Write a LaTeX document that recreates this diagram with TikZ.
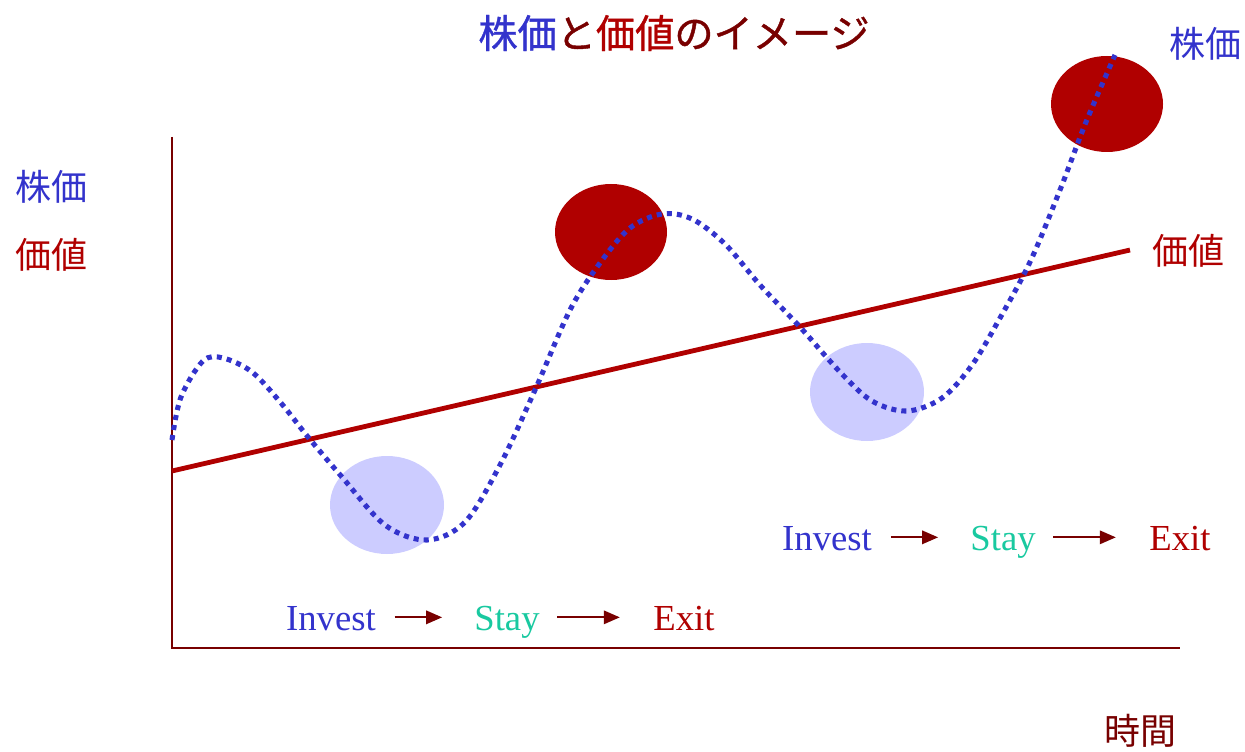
\documentclass[tikz,border=0pt]{standalone}
\usepackage{fontspec}
\setmainfont{Liberation Serif}
\newfontfamily\jpfont{Noto Sans CJK JP}
\newfontfamily\jptitle[FakeBold=1]{Noto Sans CJK JP}
\usetikzlibrary{arrows.meta}

\definecolor{kabuBlue}{HTML}{3333CC}
\definecolor{darkMaroon}{HTML}{780000}
\definecolor{valRed}{HTML}{B00000}
\definecolor{stayGreen}{HTML}{19C9A0}
\definecolor{bulleBlue}{HTML}{CCCCFF}

\tikzset{
  axe/.style={draw=darkMaroon, line width=2.2pt},
  valeur/.style={draw=valRed, line width=3.6pt},
  cours/.style={draw=kabuBlue, line width=3.8pt, dash pattern=on 3.8pt off 3.8pt},
  achat/.style={fill=bulleBlue},
  vente/.style={fill=valRed},
  etape/.style={font=\fontsize{27.5}{30}\selectfont, inner sep=0pt},
  jplabel/.style={font=\jpfont\fontsize{27}{30}\selectfont, inner sep=0pt},
  fleche/.style={draw=darkMaroon, line width=1.6pt, -{Triangle[length=12pt,width=10pt]}}
}

\begin{document}
\begin{tikzpicture}[x=0.75pt,y=-0.75pt]
  \useasboundingbox (0,0) rectangle (1245,752);

  % Titre
  \node[font=\jptitle\fontsize{29.4}{33}\selectfont, inner sep=0pt] (titre) at (674,33)
    {\textcolor{kabuBlue}{株価}\textcolor{darkMaroon}{と}\textcolor{valRed}{価値}\textcolor{darkMaroon}{のイメージ}};

  % Bulles
  \fill[achat] (387,505) ellipse [x radius=57, y radius=49];
  \fill[achat] (867,392) ellipse [x radius=57, y radius=49];
  \fill[vente] (611,232) ellipse [x radius=56, y radius=48];
  \fill[vente] (1107,104) ellipse [x radius=56, y radius=48];

  % Axes
  \coordinate (O) at (172,648);
  \coordinate (ytop) at (172,137);
  \coordinate (xend) at (1180,648);
  \draw[axe] (ytop) -- (O) -- (xend);

  % Valeur
  \coordinate (v0) at (172,471);
  \coordinate (v1) at (1130,250);
  \draw[valeur] (v0) -- (v1);

  % Cours
  \draw[cours] plot[smooth, tension=0.55] coordinates {
    (172,440) (181,397) (203,361) (223,358) (252,372) (281,403) (308,437)
    (342,477) (385,525) (427,540) (465,522) (500,465) (535,390) (570,310)
    (600,263) (630,228) (662,214) (692,219) (725,244) (760,285) (800,327)
    (840,372) (872,401) (907,411) (942,398) (972,365) (1000,318) (1030,262)
    (1060,190) (1086,122) (1115,55)};

  % Etiquettes
  \node[jplabel, text=kabuBlue] (kabuG) at (52,187) {株価};
  \node[jplabel, text=valRed] (kachiG) at (52,255) {価値};
  \node[jplabel, text=kabuBlue] (kabuD) at (1205,44) {株価};
  \node[jplabel, text=valRed] (kachiD) at (1188,251) {価値};
  \node[jplabel, text=darkMaroon] (jikan) at (1140,731) {時間};

  % Premier cycle
  \node[etape, text=kabuBlue, anchor=base] (inv1) at (331,630) {Invest};
  \node[etape, text=stayGreen, anchor=base] (stay1) at (507,630) {Stay};
  \node[etape, text=valRed, anchor=base] (exit1) at (684,630) {Exit};
  \draw[fleche] ([xshift=14pt,yshift=9.5pt]inv1.base east) -- ([xshift=-24pt,yshift=9.5pt]stay1.base west);
  \draw[fleche] ([xshift=13pt,yshift=9.5pt]stay1.base east) -- ([xshift=-25pt,yshift=9.5pt]exit1.base west);

  % Second cycle
  \node[etape, text=kabuBlue, anchor=base] (inv2) at (827,550) {Invest};
  \node[etape, text=stayGreen, anchor=base] (stay2) at (1003,550) {Stay};
  \node[etape, text=valRed, anchor=base] (exit2) at (1180,550) {Exit};
  \draw[fleche] ([xshift=14pt,yshift=9.5pt]inv2.base east) -- ([xshift=-24pt,yshift=9.5pt]stay2.base west);
  \draw[fleche] ([xshift=13pt,yshift=9.5pt]stay2.base east) -- ([xshift=-25pt,yshift=9.5pt]exit2.base west);
\end{tikzpicture}
\end{document}
